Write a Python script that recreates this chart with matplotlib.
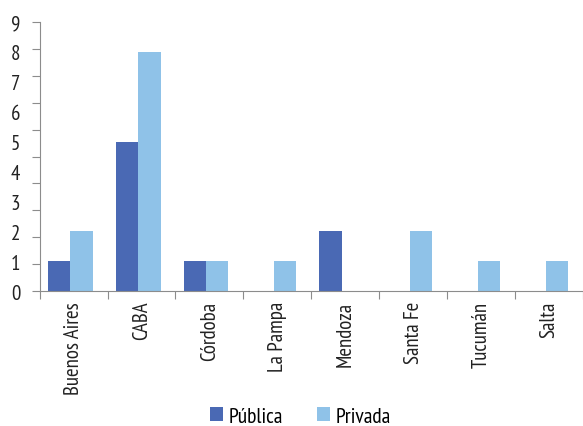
import numpy as np
import matplotlib.pyplot as plt

provincias = ["Buenos Aires", "CABA", "Córdoba", "La Pampa", "Mendoza",
              "Santa Fe", "Tucumán", "Salta"]
publica = [1, 5, 1, 0, 2, 0, 0, 0]
privada = [2, 8, 1, 1, 0, 2, 1, 1]
y_labels = ["0", "1", "2", "3", "4", "5", "6", "7", "8", "9"]

plt.rcParams["font.family"] = ["PT Sans Narrow", "DejaVu Sans"]

c_pub = "#4a69b4"
c_priv = "#8fc2e8"
axis_c = "#8c8c8c"
txt_c = "#222222"

fig = plt.figure(figsize=(5.83, 4.27), dpi=100)
ax = fig.add_axes([0.068, 0.316, 0.932, 0.630])

x = np.arange(len(provincias))
w = 0.33
ax.bar(x - w / 2 - 0.05, publica, w, color=c_pub, label="Pública")
ax.bar(x + w / 2 - 0.05, privada, w, color=c_priv, label="Privada")

ax.set_xlim(-0.5, len(provincias) - 0.5)
ax.set_ylim(0, 9)

# tick marks every 0.9, labels on the integers
ax.yaxis.remove_overlapping_locs = False
ax.set_yticks(np.linspace(0, 9, 11))
ax.set_yticklabels([])
ax.set_yticks(np.arange(10), minor=True)
ax.set_yticklabels(y_labels, minor=True)
ax.tick_params(axis="y", which="major", length=6, color=axis_c, direction="out")
ax.tick_params(axis="y", which="minor", length=0, pad=14, labelsize=15,
               labelcolor=txt_c)

ax.set_xticks(np.arange(len(provincias) + 1) - 0.5)
ax.set_xticklabels([])
ax.set_xticks(x, minor=True)
ax.set_xticklabels(provincias, minor=True, rotation=90)
ax.tick_params(axis="x", which="major", length=6, color=axis_c)
ax.tick_params(axis="x", which="minor", length=0, pad=7, labelsize=15,
               labelcolor=txt_c)

for s in ["top", "right"]:
    ax.spines[s].set_visible(False)
for s in ["left", "bottom"]:
    ax.spines[s].set_color(axis_c)

fig.legend(loc="lower center", bbox_to_anchor=(0.515, -0.045), ncol=2, frameon=False,
           fontsize=15.5, handlelength=0.6, handleheight=0.6, handletextpad=0.25,
           columnspacing=1.6)

fig.savefig("out.png", dpi=100)
